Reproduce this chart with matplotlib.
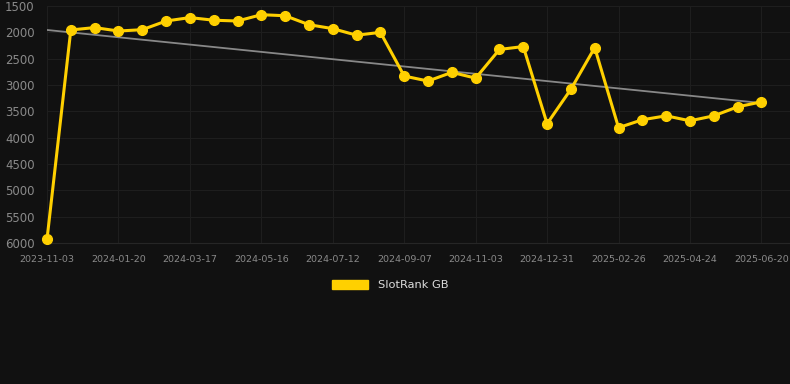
import matplotlib
matplotlib.use("Agg")
import matplotlib.pyplot as plt
import numpy as np

### Data (rank, lower is better)
tick_labels = ["2023-11-03", "2024-01-20", "2024-03-17", "2024-05-16", "2024-07-12", "2024-09-07",
               "2024-11-03", "2024-12-31", "2025-02-26", "2025-04-24", "2025-06-20"]
rank_gb = [5930, 1955, 1910, 1975, 1950, 1785, 1720, 1770, 1785, 1665, 1685,
           1855, 1930, 2055, 2000, 2830, 2925, 2760, 2870, 2325, 2270,
           3735, 3080, 2290, 3810, 3660, 3585, 3680, 3585, 3415, 3320]
series_name = "SlotRank GB"

bg = "#111111"
gold = "#FFD000"

fig = plt.figure(figsize=(7.9, 3.84), dpi=100, facecolor=bg)
ax = fig.add_axes([47 / 790, (384 - 243) / 384, 1 - 47 / 790, (243 - 6) / 384])
ax.set_facecolor(bg)

x = np.arange(len(rank_gb))

### Trend line (least squares)
slope, intercept = np.polyfit(x, rank_gb, 1)
ax.plot(x, slope * x + intercept, color="#888888", linewidth=1.3, zorder=2)

### Main series
ax.plot(x, rank_gb, color=gold, linewidth=2.2, marker="o", markersize=7,
        markerfacecolor=gold, markeredgecolor=gold, zorder=3, clip_on=False)

ax.set_xlim(0, 31.2)
ax.set_ylim(6000, 1500)
ax.set_yticks(np.arange(1500, 6001, 500))
ax.set_xticks(x[::3])
ax.set_xticklabels(tick_labels)

ax.grid(True, color="#1e1e1e", linewidth=0.8)
ax.set_axisbelow(True)
for side in ["top", "right", "left"]:
    ax.spines[side].set_visible(False)
ax.spines["bottom"].set_color("#262626")

ax.tick_params(axis="y", length=0, pad=9, labelsize=8.5, labelcolor="#8a8a8a")
ax.tick_params(axis="x", length=0, pad=9, labelsize=6.8, labelcolor="#8a8a8a")

### Legend
fig.legend([plt.Rectangle((0, 0), 1, 1, color=gold)], [series_name],
           loc="center", bbox_to_anchor=(390 / 790, 1 - 285 / 384), frameon=False,
           handlelength=3.2, handleheight=0.9, fontsize=8.2, labelcolor="#dddddd")

fig.savefig("out.png", dpi=100, facecolor=bg)
